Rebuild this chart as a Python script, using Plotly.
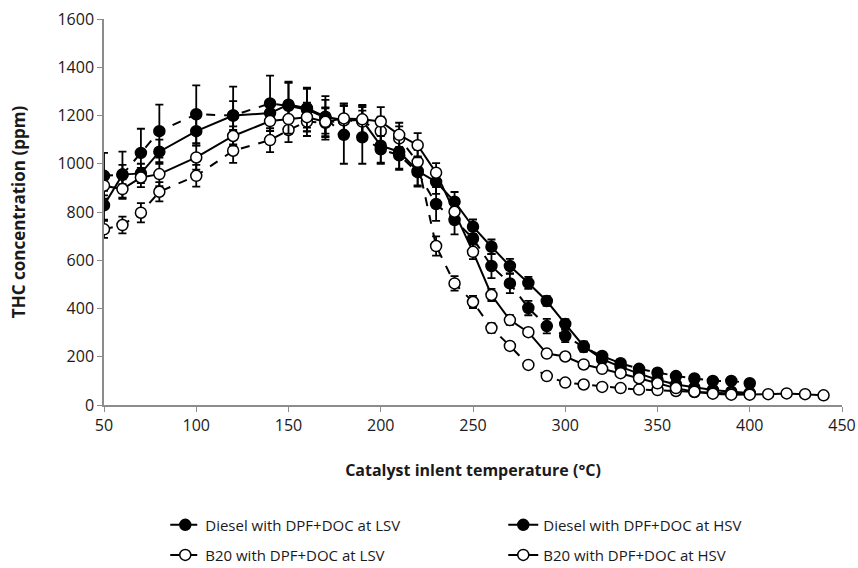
import plotly.graph_objects as go

temp_diesel = [50, 60, 70, 80, 100, 120, 140, 150, 160, 170, 180, 190, 200, 210, 220, 230, 240, 250,
               260, 270, 280, 290, 300, 310, 320, 330, 340, 350, 360, 370, 380, 390, 400]
temp_b20_hsv = temp_diesel + [410, 420, 430, 440]
temp_b20_lsv = temp_diesel

diesel_lsv = [950, 955, 1045, 1135, 1205, 1200, 1250, 1240, 1225, 1190, 1120, 1110, 1060, 1035, 965, 833, 767, 690,
              576, 504, 402, 327, 286, 240, 203, 173, 150, 134, 120, 110, 100, 100, 90]
diesel_lsv_err = [95, 95, 100, 110, 120, 120, 115, 100, 90, 90, 120, 110, 60, 60, 60, 70, 60, 50,
                  50, 40, 30, 30, 25, 20, 15, 15, 10, 10, 10, 10, 10, 10, 10]

diesel_hsv = [828, 955, 960, 1050, 1135, 1200, 1210, 1245, 1230, 1195, 1180, 1180, 1075, 1050, 970, 925, 843, 739,
              656, 576, 506, 431, 336, 244, 190, 158, 130, 105, 85, 72, 62, 55, 50]
diesel_hsv_err = [60, 40, 40, 50, 60, 60, 50, 90, 80, 70, 70, 60, 70, 70, 60, 50, 40, 30,
                  30, 30, 25, 20, 20, 20, 15, 10, 10, 10, 10, 10, 10, 10, 10]

b20_lsv = [728, 746, 797, 884, 950, 1054, 1098, 1140, 1175, 1170, 1180, 1175, 1135, 1105, 1008, 659, 504, 427,
           319, 245, 166, 120, 93, 85, 75, 70, 64, 62, 58, 54, 50, 48, 46]
b20_lsv_err = [35, 35, 40, 40, 45, 50, 50, 50, 60, 60, 60, 60, 60, 50, 50, 40, 30, 25,
               20, 15, 10, 8, 8, 8, 8, 8, 8, 8, 8, 8, 8, 8, 8]

b20_hsv = [909, 895, 943, 957, 1026, 1115, 1177, 1185, 1193, 1174, 1188, 1184, 1175, 1120, 1077, 963, 801, 635,
           456, 352, 302, 213, 201, 168, 150, 132, 111, 90, 70, 55, 47, 43, 43, 45, 48, 45, 40]
b20_hsv_err = [40, 40, 40, 50, 50, 40, 40, 60, 60, 60, 60, 60, 60, 50, 50, 40, 30, 30,
               25, 20, 15, 10, 10, 10, 10, 10, 10, 10, 10, 10, 10, 10, 10, 10, 10, 10, 10]

series = [
    ("Diesel with DPF+DOC at LSV", temp_diesel, diesel_lsv, diesel_lsv_err, "dash", "black", "legend"),
    ("Diesel with DPF+DOC at HSV", temp_diesel, diesel_hsv, diesel_hsv_err, "solid", "black", "legend2"),
    ("B20 with DPF+DOC at LSV", temp_b20_lsv, b20_lsv, b20_lsv_err, "dash", "white", "legend3"),
    ("B20 with DPF+DOC at HSV", temp_b20_hsv, b20_hsv, b20_hsv_err, "solid", "white", "legend4"),
]

fig = go.Figure()
for name, x, y, err, dash, fill, leg in series:
    fig.add_trace(go.Scatter(
        x=x, y=y, name=name, mode="lines+markers", legend=leg,
        line=dict(color="black", width=2, dash=dash),
        marker=dict(symbol="circle", size=11, color=fill, line=dict(color="black", width=1.5)),
        error_y=dict(type="data", array=err, visible=True, color="black", thickness=1.8, width=4),
    ))

font_family = "Open Sans, Noto Sans, sans-serif"
txt = "#1a1a1a"
leg_common = dict(xanchor="left", yanchor="middle", font=dict(size=15, color=txt),
                  bgcolor="rgba(0,0,0,0)", itemwidth=30)
fig.update_layout(
    width=858, height=568,
    margin=dict(l=104, r=16, t=19, b=163, autoexpand=False),
    plot_bgcolor="white", paper_bgcolor="white",
    font=dict(family=font_family, size=16, color=txt),
    showlegend=True,
    legend=dict(x=0.083, y=-0.311, **leg_common),
    legend2=dict(x=0.541, y=-0.311, **leg_common),
    legend3=dict(x=0.083, y=-0.389, **leg_common),
    legend4=dict(x=0.541, y=-0.389, **leg_common),
    xaxis=dict(range=[50, 450], dtick=50, tick0=50, showgrid=False, zeroline=False,
               showline=True, linecolor="#8c8c8c", linewidth=1.5,
               ticks="outside", ticklen=5, tickcolor="#8c8c8c", ticklabeloverflow="allow",
               title=dict(text="<b>Catalyst inlent temperature (°C)</b>", font=dict(size=16), standoff=30)),
    yaxis=dict(range=[0, 1600], dtick=200, showgrid=False, zeroline=False,
               showline=True, linecolor="#8c8c8c", linewidth=1.5,
               ticks="outside", ticklen=5, tickcolor="#8c8c8c", ticklabeloverflow="allow",
               title=dict(text="<b>THC concentration (ppm)</b>", font=dict(size=17), standoff=28)),
)

fig.write_html("out.html", config={"displayModeBar": False},
               post_script="document.body.style.margin='0';document.body.style.overflow='hidden';")
